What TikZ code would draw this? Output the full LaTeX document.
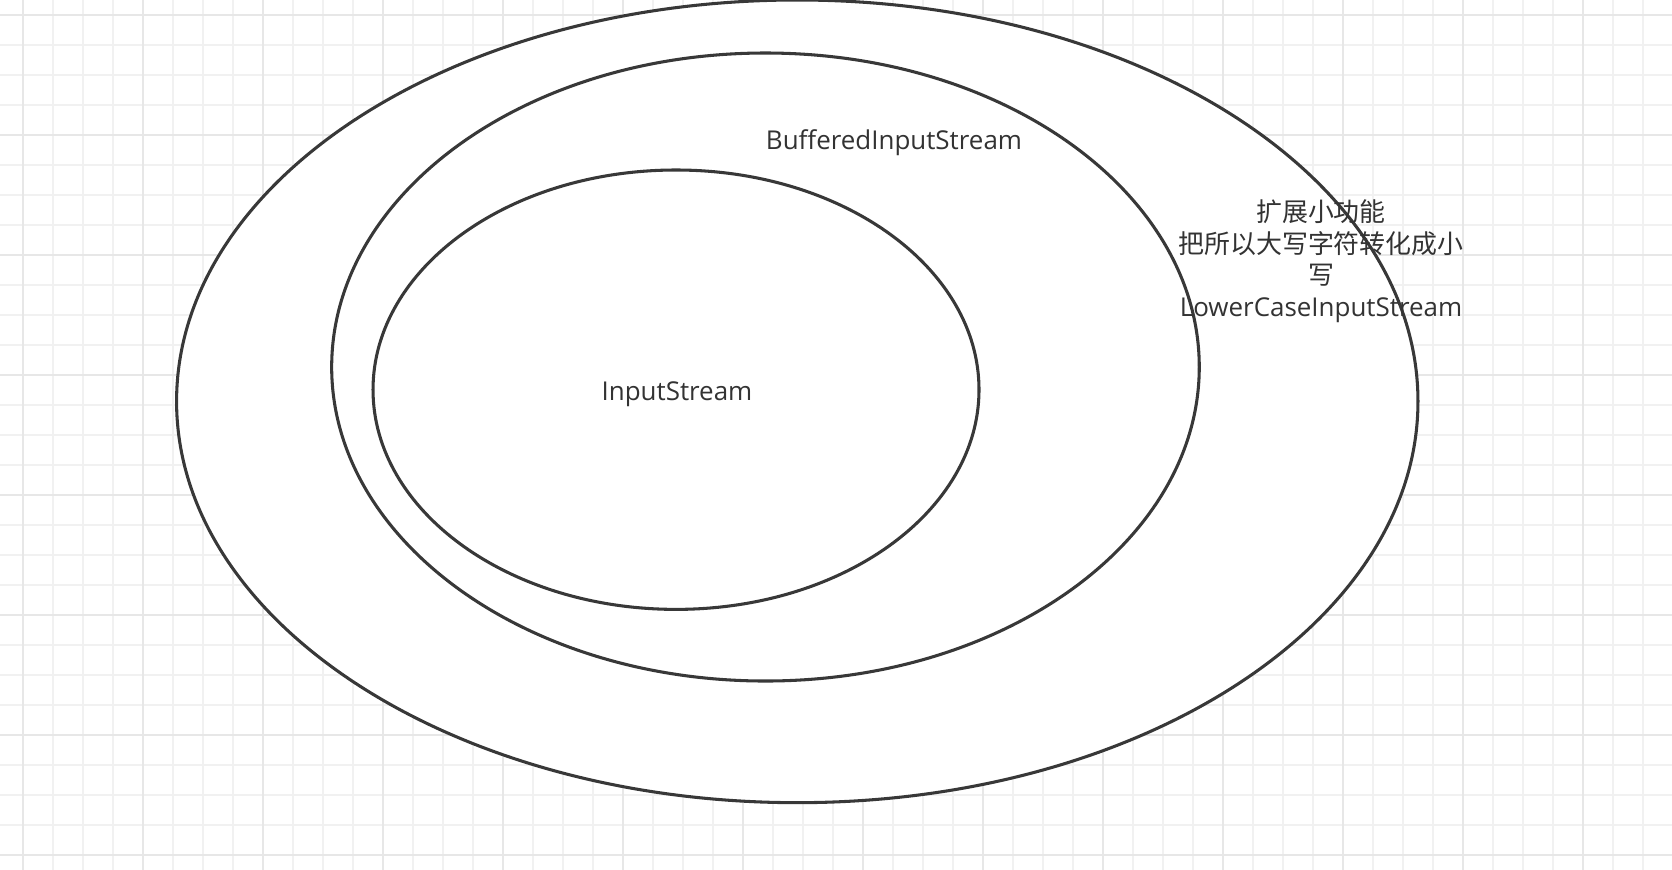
\documentclass[tikz,border=0pt]{standalone}
\usepackage{fontspec}
\setmainfont{Open Sans}
\newfontfamily\cjk{Noto Sans CJK SC}
\usetikzlibrary{shapes.geometric}

\begin{document}
\begin{tikzpicture}[
    minorline/.style={line width=0.9pt, gray!11},
    majorline/.style={line width=0.9pt, gray!19},
    ring/.style={ellipse, draw=black!78, line width=1.45pt, fill=white, inner sep=0pt},
    lbl/.style={text=black!80, font=\fontsize{12.3}{15.1}\selectfont, inner sep=0pt}
  ]
  \useasboundingbox (0,0) rectangle (27.867,-14.5);
  % 背景网格
  \foreach \i in {0,...,54} \draw[minorline] (0.378+0.5*\i,0) -- (0.378+0.5*\i,-14.5);
  \foreach \j in {0,...,28} \draw[minorline] (0,-0.25-0.5*\j) -- (27.867,-0.25-0.5*\j);
  \foreach \i in {0,...,13} \draw[majorline] (0.378+2*\i,0) -- (0.378+2*\i,-14.5);
  \foreach \j in {0,...,7} \draw[majorline] (0,-0.25-2*\j) -- (27.867,-0.25-2*\j);
  % 三层椭圆：外层、中层、内层
  \node[ring, minimum width=20.69cm, minimum height=13.378cm] (outer) at (13.288,-6.689) {};
  \node[ring, minimum width=14.46cm, minimum height=10.467cm] (middle) at (12.758,-6.117) {};
  \node[ring, minimum width=10.1cm, minimum height=7.323cm] (inner) at (11.267,-6.495) {};
  % 标注
  \node[lbl] (instream) at (11.283,-6.57) {InputStream};
  \node[lbl] (buffered) at (14.9,-2.37) {BufferedInputStream};
  \node[lbl, align=center] (lower) at (22.017,-4.353)
    {{\cjk 扩展小功能}\\{\cjk 把所以大写字符转化成小}\\{\cjk 写}\\LowerCaseInputStream};
\end{tikzpicture}
\end{document}
